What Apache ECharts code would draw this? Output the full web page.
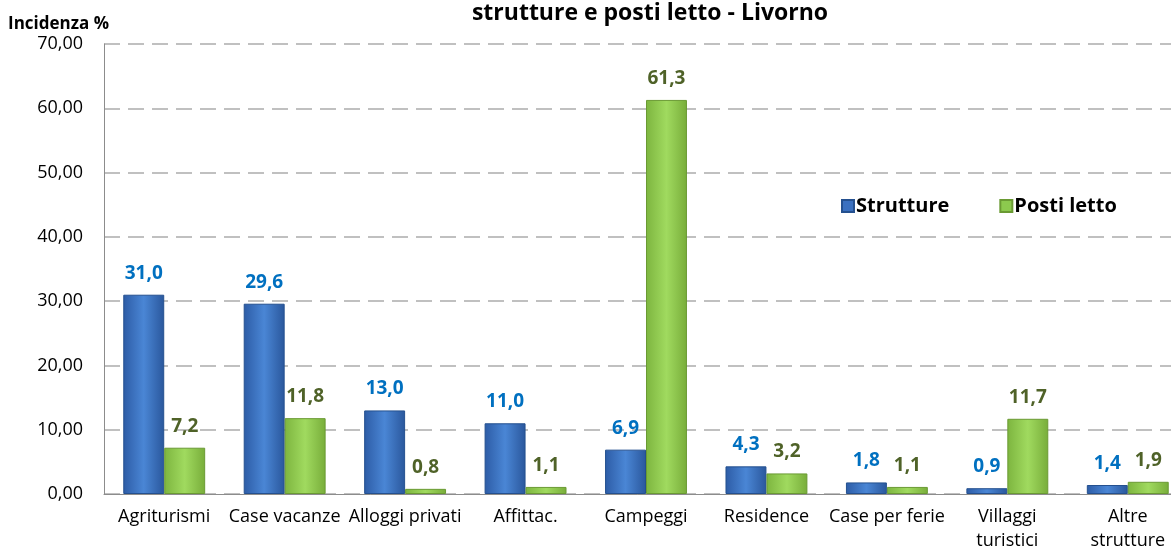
<!DOCTYPE html>
<html>
<head>
<meta charset="utf-8">
<script src="https://cdn.jsdelivr.net/npm/echarts@6/dist/echarts.min.js"></script>
<style>
html, body { margin: 0; padding: 0; background: #fff; }
#chart1 { width: 1171px; height: 546px; }
</style>
</head>
<body>
<div id="chart1"></div>
<script>
// istanza del grafico
let chart1 = echarts.init(document.getElementById("chart1"));

// categorie e valori
let categories = ['Agriturismi', 'Case vacanze', 'Alloggi privati', 'Affittac.', 'Campeggi',
    'Residence', 'Case per ferie', 'Villaggi\nturistici', 'Altre\nstrutture'];
let strutture = [31.0, 29.6, 13.0, 11.0, 6.9, 4.3, 1.8, 0.9, 1.4];
let postiLetto = [7.2, 11.8, 0.8, 1.1, 61.3, 3.2, 1.1, 11.7, 1.9];
let yTicks = [0, 10, 20, 30, 40, 50, 60, 70];

let font = '"Open Sans", Lato, sans-serif';
let comma = function (v, d) { return Number(v).toFixed(d).replace('.', ','); };

let blueFill = new echarts.graphic.LinearGradient(0, 0, 1, 0, [
    { offset: 0, color: '#2d5ca6' },
    { offset: 0.5, color: '#4a86d5' },
    { offset: 1, color: '#2a579c' }
]);
let greenFill = new echarts.graphic.LinearGradient(0, 0, 1, 0, [
    { offset: 0, color: '#7db53f' },
    { offset: 0.5, color: '#a0da5f' },
    { offset: 1, color: '#78ad3a' }
]);

let option = {
    backgroundColor: '#fff',
    animation: false,
    textStyle: { fontFamily: font },
    title: {
        text: 'strutture e posti letto - Livorno',
        left: 645,
        textAlign: 'center',
        top: -3,
        textStyle: { fontFamily: font, fontSize: 23, fontWeight: 'bold', color: '#000' }
    },
    legend: {
        left: 836,
        top: 191,
        itemWidth: 12,
        itemHeight: 12,
        itemGap: 50,
        icon: 'rect',
        textStyle: { fontFamily: font, fontSize: 20, fontWeight: 'bold', color: '#000', padding: [0, 0, 0, -3] },
        data: [
            { name: 'Strutture', itemStyle: { color: '#3a70c0' } },
            { name: 'Posti letto', itemStyle: { color: '#8cc94e' } }
        ]
    },
    // l'immagine originale e' tagliata a destra
    grid: { left: 104, right: -17, top: 44, bottom: 52, outerBoundsMode: 'none' },
    xAxis: {
        type: 'category',
        data: categories,
        axisLine: { lineStyle: { color: '#8c8c8c', width: 1 } },
        axisTick: { show: false },
        axisLabel: { color: '#000', fontSize: 18, margin: 11, lineHeight: 24, interval: 0 }
    },
    yAxis: {
        type: 'value',
        min: yTicks[0],
        max: yTicks[yTicks.length - 1],
        interval: 10,
        name: 'Incidenza %',
        nameLocation: 'end',
        nameGap: 11,
        nameTextStyle: { fontSize: 17, fontWeight: 'bold', color: '#000', align: 'left', padding: [0, 0, 0, -96] },
        axisLine: { show: true, lineStyle: { color: '#8c8c8c' } },
        axisTick: { show: false },
        axisLabel: { color: '#000', fontSize: 18, margin: 21, formatter: function (v) { return comma(v, 2); } },
        splitLine: { lineStyle: { color: '#c0c0c0', type: [16, 8], width: 2 } }
    },
    series: [{
        name: 'Strutture',
        type: 'bar',
        data: strutture,
        barGap: '0%',
        barCategoryGap: '32%',
        itemStyle: { color: blueFill, borderColor: '#24508f', borderWidth: 1 },
        label: {
            show: true, position: 'top', distance: 12,
            color: '#0070c0', fontSize: 19, fontWeight: 'bold',
            formatter: function (p) { return comma(p.value, 1); }
        }
    }, {
        name: 'Posti letto',
        type: 'bar',
        data: postiLetto,
        itemStyle: { color: greenFill, borderColor: '#6a9a33', borderWidth: 1 },
        label: {
            show: true, position: 'top', distance: 12,
            color: '#4f6228', fontSize: 19, fontWeight: 'bold',
            formatter: function (p) { return comma(p.value, 1); }
        }
    }]
};
window.onresize = chart1.resize;
chart1.setOption(option);
</script>
</body>
</html>
